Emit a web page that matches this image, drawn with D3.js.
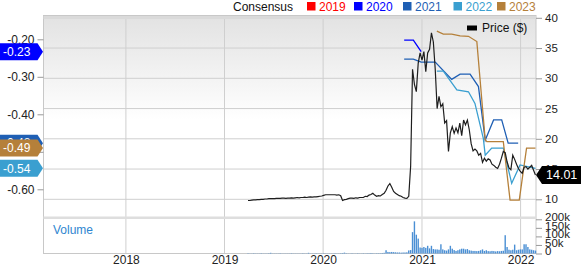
<!DOCTYPE html>
<html>
<head>
<meta charset="utf-8">
<script src="https://cdn.jsdelivr.net/npm/d3@7"></script>
<style>
  body { margin: 0; background: #fff; }
  svg { display: block; font-family: "Liberation Sans", Arial, sans-serif; }
</style>
</head>
<body>
<div id="chart"></div>
<script>
// Weekly price / volume, first week below
var startWeek = "2019-03-29";
var priceValues = [
  9.80, 9.80, 9.85, 9.90, 9.90, 9.95, 9.95, 10.00, 10.00, 10.05,
  10.05, 10.10, 10.10, 10.10, 10.10, 10.15, 10.15, 10.15, 10.20, 10.20,
  10.15, 10.20, 10.20, 10.25, 10.20, 10.25, 10.30, 10.25, 10.30, 10.30,
  10.35, 10.30, 10.35, 10.40, 10.35, 10.40, 10.40, 10.45, 10.50, 10.55,
  10.65, 10.75, 10.75, 10.75, 10.75, 10.75, 10.75, 10.70, 10.75, 10.60,
  9.80, 9.95, 10.00, 10.10, 10.20, 10.20, 10.15, 10.25, 10.20, 10.30,
  10.30, 10.30, 10.50, 10.45, 10.70, 10.80, 11.00, 10.70, 10.50, 10.60,
  10.55, 10.80, 11.00, 11.50, 12.20, 12.60, 12.00, 11.30, 11.00, 10.80,
  10.60, 10.50, 10.30, 10.20, 10.15, 10.50, 15.50, 31.50, 29.00, 27.80,
  32.50, 34.20, 33.00, 34.40, 31.10, 34.20, 34.80, 37.50, 36.00, 31.50,
  25.00, 27.00, 25.30, 25.80, 22.60, 23.00, 17.90, 21.00, 22.00, 20.90,
  21.80, 21.00, 22.60, 20.50, 23.10, 22.30, 23.10, 21.50, 19.20, 18.00,
  18.30, 18.00, 17.30, 17.60, 16.10, 16.80, 16.30, 16.70, 16.50, 15.80,
  15.60, 15.30, 15.10, 15.80, 16.80, 17.90, 17.70, 16.20, 15.20, 14.90,
  17.30, 16.60, 15.80, 15.10, 14.60, 14.30, 15.30, 15.40, 15.00, 15.30,
  15.60, 14.80, 14.01
];
// volume in thousands of shares
var volumeValues = [
  2, 1, 1, 2, 1, 1, 1, 2, 1, 1,
  1, 2, 4, 1, 1, 1, 1, 2, 1, 1,
  1, 1, 1, 2, 1, 1, 1, 1, 1, 2,
  1, 1, 4, 1, 1, 1, 2, 1, 1, 1,
  2, 1, 1, 1, 1, 1, 2, 1, 1, 2,
  3, 5, 2, 1, 1, 2, 1, 1, 2, 1,
  1, 2, 1, 2, 2, 3, 2, 1, 2, 2,
  2, 3, 4, 19, 9, 8, 9, 8, 7, 6,
  6, 5, 6, 6, 7, 18, 20, 125, 188, 110,
  87, 35, 33, 38, 33, 45, 30, 45, 26, 24,
  24, 22, 54, 24, 19, 17, 24, 45, 28, 20,
  15, 19, 24, 28, 28, 24, 26, 19, 17, 15,
  15, 14, 15, 19, 24, 15, 19, 14, 13, 15,
  14, 12, 14, 13, 15, 16, 107, 38, 22, 19,
  22, 52, 19, 22, 24, 24, 54, 54, 38, 24,
  22, 19, 17
];

// Consensus EPS estimates per fiscal year
var est2020Dates = ["2020-10-27", "2020-11-30", "2020-12-29"];
var est2020Values = [-0.202, -0.202, -0.233];
var est2021Dates = ["2020-10-27", "2020-11-30", "2020-12-29", "2021-02-19", "2021-04-21", "2021-05-22",
  "2021-06-28", "2021-07-29", "2021-08-23", "2021-09-23", "2021-10-23", "2021-11-16", "2021-12-23"];
var est2021Values = [-0.253, -0.253, -0.261, -0.261, -0.307, -0.293, -0.293, -0.326, -0.469, -0.415, -0.415, -0.477, -0.477];
var est2022Dates = ["2021-02-25", "2021-03-21", "2021-05-10", "2021-06-22", "2021-07-16", "2021-08-16",
  "2021-08-23", "2021-09-16", "2021-10-29", "2021-11-29", "2021-12-30", "2022-02-25"];
var est2022Values = [-0.285, -0.285, -0.335, -0.340, -0.371, -0.464, -0.509, -0.490, -0.490, -0.584, -0.535, -0.544];
var est2023Dates = ["2021-02-25", "2021-03-21", "2021-04-21", "2021-05-22", "2021-06-22", "2021-07-23",
  "2021-08-23", "2021-08-29", "2021-10-29", "2021-11-23", "2021-12-27", "2022-01-23", "2022-02-25"];
var est2023Values = [-0.178, -0.186, -0.186, -0.191, -0.192, -0.206, -0.468, -0.473, -0.473, -0.629, -0.629, -0.490, -0.490];

var consensusYears = ["2019", "2020", "2021", "2022", "2023"];
var consensusColors = ["#ff0000", "#0000ff", "#1f5fb4", "#3a9fd0", "#b5803a"];

var yearLabels = ["2018", "2019", "2020", "2021", "2022"];
var priceTicks = [10, 15, 20, 25, 30, 35, 40];
var epsTicks = [-0.20, -0.30, -0.40, -0.50, -0.60];
var volumeTicks = [0, 50, 100, 150, 200];

// Layout
var width = 581, height = 265;
var box = { left: 43.5, right: 536, top: 15.5, priceBottom: 216.5, volTop: 218.5, volBottom: 253.5 };

var parse = d3.timeParse("%Y-%m-%d");
var start = parse(startWeek);
var weekDate = function (i) { return d3.timeDay.offset(start, 7 * i); };

// Scales
var x = d3.scaleTime()
    .domain([parse("2017-03-02"), parse("2022-02-27")])
    .range([box.left, box.right]);
var yPrice = d3.scaleLinear().domain([10, 40]).range([199.3, 17.8]);
var yEps = d3.scaleLinear().domain([-0.2, -0.6]).range([39.3, 189.3]);
var yVol = d3.scaleLinear().domain([0, 200]).range([box.volBottom, 219.3]);

var svg = d3.select("#chart")
    .append("svg")
    .attr("width", width)
    .attr("height", height);

var defs = svg.append("defs");
var grad = defs.append("linearGradient")
    .attr("id", "bg").attr("x1", 0).attr("y1", 0).attr("x2", 0).attr("y2", 1);
grad.append("stop").attr("offset", "0%").attr("stop-color", "#e2e2e2");
grad.append("stop").attr("offset", "52%").attr("stop-color", "#ffffff");
defs.append("clipPath").attr("id", "clipPrice")
    .append("rect")
    .attr("x", box.left).attr("y", box.top)
    .attr("width", box.right - box.left).attr("height", box.priceBottom - box.top);

// Panel backgrounds
svg.append("rect")
    .attr("x", box.left).attr("y", box.top)
    .attr("width", box.right - box.left).attr("height", box.priceBottom - box.top)
    .attr("fill", "url(#bg)");

// Gridlines
var years = yearLabels.map(function (d) { return parse(d + "-01-01"); });
svg.append("g").selectAll("line")
    .data(years)
    .enter().append("line")
    .attr("x1", function (d) { return x(d); })
    .attr("x2", function (d) { return x(d); })
    .attr("y1", box.top)
    .attr("y2", box.volBottom)
    .attr("stroke", "#cfcfcf");
svg.append("g").selectAll("line")
    .data(priceTicks)
    .enter().append("line")
    .attr("x1", box.left).attr("x2", box.right)
    .attr("y1", function (d) { return yPrice(d); })
    .attr("y2", function (d) { return yPrice(d); })
    .attr("stroke", "#cfcfcf");

// Panel borders
svg.append("rect")
    .attr("x", box.left).attr("y", box.top)
    .attr("width", box.right - box.left).attr("height", box.volBottom - box.top)
    .attr("fill", "none").attr("stroke", "#c8c8c8");
svg.append("line")
    .attr("x1", box.left).attr("x2", box.right)
    .attr("y1", 17.5).attr("y2", 17.5)
    .attr("stroke", "#dadada").attr("stroke-width", 3);
svg.append("line")
    .attr("x1", box.left).attr("x2", box.right)
    .attr("y1", 217.8).attr("y2", 217.8)
    .attr("stroke", "#dedede").attr("stroke-width", 2.5);

// Volume bars
svg.append("g").selectAll("rect")
    .data(volumeValues)
    .enter().append("rect")
    .attr("x", function (d, i) { return x(weekDate(i)) - 0.7; })
    .attr("width", 1.4)
    .attr("y", function (d) { return yVol(d); })
    .attr("height", function (d) { return box.volBottom - yVol(d); })
    .attr("fill", "#4a8fd4");

svg.append("text")
    .attr("x", 53).attr("y", 233.5)
    .attr("font-size", 12)
    .attr("fill", "#2f86d0")
    .text("Volume");

// Consensus lines
var plotArea = svg.append("g").attr("clip-path", "url(#clipPrice)");
var estLine = d3.line()
    .x(function (d) { return x(d.date); })
    .y(function (d) { return yEps(d.v); });
var estimates = [
  { year: "2020", dates: est2020Dates, values: est2020Values },
  { year: "2021", dates: est2021Dates, values: est2021Values },
  { year: "2022", dates: est2022Dates, values: est2022Values },
  { year: "2023", dates: est2023Dates, values: est2023Values }
];
var colorOf = d3.scaleOrdinal().domain(consensusYears).range(consensusColors);
estimates.forEach(function (s) {
    var pts = s.dates.map(function (d, i) { return { date: parse(d), v: s.values[i] }; });
    plotArea.append("path")
        .datum(pts)
        .attr("d", estLine)
        .attr("fill", "none")
        .attr("stroke", colorOf(s.year))
        .attr("stroke-width", 1.3);
});

// Price line
var priceLine = d3.line()
    .x(function (d, i) { return x(weekDate(i)); })
    .y(function (d) { return yPrice(d); });
plotArea.append("path")
    .datum(priceValues)
    .attr("d", priceLine)
    .attr("fill", "none")
    .attr("stroke", "#1e1e1e")
    .attr("stroke-width", 1.2);

// Left axis (EPS)
var leftAxis = svg.append("g")
    .attr("transform", "translate(" + box.left + ",0)")
    .call(d3.axisLeft(yEps).tickValues(epsTicks).tickSize(6).tickPadding(3)
        .tickFormat(function (d) { return d.toFixed(2); }));
leftAxis.select(".domain").remove();
leftAxis.selectAll("line").attr("stroke", "#999");
leftAxis.selectAll("text").attr("font-size", 12).attr("fill", "#222")
    .attr("font-family", "Liberation Sans, Arial, sans-serif");

// Right axis (price)
var rightAxis = svg.append("g")
    .attr("transform", "translate(" + box.right + ",0)")
    .call(d3.axisRight(yPrice).tickValues(priceTicks).tickSize(6).tickPadding(3));
rightAxis.select(".domain").remove();
rightAxis.selectAll("line").attr("stroke", "#999");
rightAxis.selectAll("text").attr("font-size", 11.5).attr("fill", "#222")
    .attr("font-family", "Liberation Sans, Arial, sans-serif");

// Right axis (volume)
var volAxis = svg.append("g")
    .attr("transform", "translate(" + box.right + ",0)")
    .call(d3.axisRight(yVol).tickValues(volumeTicks).tickSize(6).tickPadding(3)
        .tickFormat(function (d) { return d === 0 ? "0" : d + "k"; }));
volAxis.select(".domain").remove();
volAxis.selectAll("line").attr("stroke", "#999");
volAxis.selectAll("text").attr("font-size", 11.5).attr("fill", "#222")
    .attr("font-family", "Liberation Sans, Arial, sans-serif")
    .attr("dy", "0.1em");

// Bottom axis (years)
var xAxis = svg.append("g")
    .attr("transform", "translate(0," + box.volBottom + ")")
    .call(d3.axisBottom(x).tickValues(years).tickSize(0).tickPadding(1.5)
        .tickFormat(d3.timeFormat("%Y")));
xAxis.select(".domain").remove();
xAxis.selectAll("text").attr("font-size", 12).attr("fill", "#222")
    .attr("font-family", "Liberation Sans, Arial, sans-serif");

// EPS callouts on the left
var calloutOrder = ["2021", "2023", "2022", "2020"];
calloutOrder.forEach(function (yr) {
    var s = estimates.filter(function (e) { return e.year === yr; })[0];
    var v = s.values[s.values.length - 1];
    var cy = yEps(v);
    var g = svg.append("g");
    g.append("path")
        .attr("d", "M0," + (cy - 8.5) + "L37.5," + (cy - 8.5) + "L43," + cy +
            "L37.5," + (cy + 8.5) + "L0," + (cy + 8.5) + "Z")
        .attr("fill", colorOf(yr));
    g.append("text")
        .attr("x", 3).attr("y", cy + 4.3)
        .attr("font-size", 12)
        .attr("fill", "#fff")
        .text(v.toFixed(2));
});

// Last price callout on the right
var last = priceValues[priceValues.length - 1];
var py = yPrice(last);
svg.append("path")
    .attr("d", "M536," + py + "L542," + (py - 9) + "L581," + (py - 9) + "L581," + (py + 9) +
        "L542," + (py + 9) + "Z")
    .attr("fill", "#000");
svg.append("text")
    .attr("x", 546).attr("y", py + 4.3)
    .attr("font-size", 12.5)
    .attr("fill", "#fff")
    .text(last.toFixed(2));

// Legend: consensus
var legend = svg.append("g");
legend.append("text")
    .attr("x", 233).attr("y", 10.5)
    .attr("font-size", 12).attr("fill", "#111")
    .text("Consensus");
var legendX = [307, 354, 403, 453.5, 497];
consensusYears.forEach(function (yr, i) {
    legend.append("rect")
        .attr("x", legendX[i]).attr("y", 2)
        .attr("width", 8.5).attr("height", 8.5)
        .attr("fill", consensusColors[i]);
    legend.append("text")
        .attr("x", legendX[i] + 12).attr("y", 10.5)
        .attr("font-size", 12).attr("fill", consensusColors[i])
        .text(yr);
});

// Legend: price
svg.append("rect")
    .attr("x", 467).attr("y", 25.5)
    .attr("width", 10).attr("height", 5)
    .attr("fill", "#000");
svg.append("text")
    .attr("x", 482).attr("y", 32)
    .attr("font-size", 12).attr("fill", "#111")
    .text("Price ($)");
</script>
</body>
</html>
